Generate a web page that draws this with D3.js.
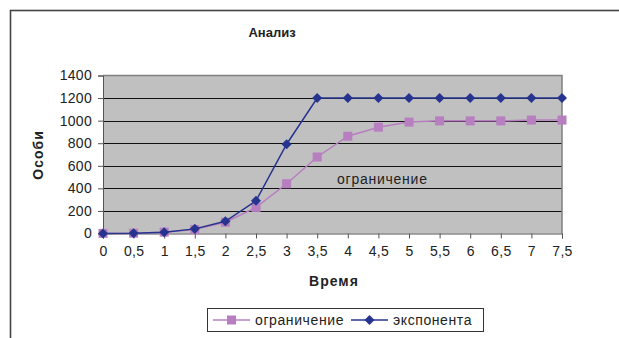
<!DOCTYPE html>
<html>
<head>
<meta charset="utf-8">
<script src="https://cdn.jsdelivr.net/npm/d3@7"></script>
<style>
  html, body { margin: 0; padding: 0; background: #fff; }
  svg { display: block; font-family: Arial, "Liberation Sans", sans-serif; }
</style>
</head>
<body>
<svg id="chart" width="619" height="338"></svg>
<script>
// Time points (x categories) and the two population series
const times = ["0", "0,5", "1", "1,5", "2", "2,5", "3", "3,5", "4", "4,5", "5", "5,5", "6", "6,5", "7", "7,5"];
const limited = [1, 3, 12, 35, 100, 231, 441, 678, 862, 942, 987, 998, 998, 998, 1005, 1005];
const exponent = [0, 2, 12, 41, 108, 290, 791, 1200, 1200, 1200, 1200, 1200, 1200, 1200, 1200, 1200];
const yTicks = [0, 200, 400, 600, 800, 1000, 1200, 1400];

const limitedName = "ограничение";
const exponentName = "экспонента";
const chartTitle = "Анализ";
const xTitle = "Время";
const yTitle = "Особи";

const colLimited = "#b77ec0";
const colExp = "#27348f";
const textCol = "#222";
const font = "Arial, 'Liberation Sans', sans-serif";

const svg = d3.select("#chart");

// Outer chart frame
svg.append("rect")
  .attr("x", 10.5).attr("y", 10.5)
  .attr("width", 640).attr("height", 360)
  .attr("fill", "none").attr("stroke", "#444").attr("stroke-width", 1.6);

const plot = { left: 103, right: 562, top: 75.5, bottom: 233.5 };

const x = d3.scalePoint().domain(times).range([plot.left, plot.right]);
const y = d3.scaleLinear().domain([0, 1400]).range([plot.bottom, plot.top]);

// Plot area background
svg.append("rect")
  .attr("x", plot.left).attr("y", plot.top)
  .attr("width", plot.right - plot.left).attr("height", plot.bottom - plot.top)
  .attr("fill", "#c0c0c0");

// Horizontal gridlines
svg.append("g").selectAll("line")
  .data(yTicks.filter(v => v > 0 && v < 1400))
  .join("line")
  .attr("x1", plot.left).attr("x2", plot.right)
  .attr("y1", d => Math.round(y(d)) + 0.5).attr("y2", d => Math.round(y(d)) + 0.5)
  .attr("stroke", "#111").attr("stroke-width", 1);

// Plot border (top and right)
svg.append("path")
  .attr("d", `M${plot.left},${plot.top}H${plot.right}V${plot.bottom}`)
  .attr("fill", "none").attr("stroke", "#808080").attr("stroke-width", 1.5);

// Y axis
const yAxis = svg.append("g")
  .attr("transform", `translate(${plot.left},0)`)
  .call(d3.axisLeft(y).tickValues(yTicks).tickSize(5).tickPadding(6).tickFormat(d3.format("d")));
yAxis.select(".domain").attr("stroke", "#555");
yAxis.selectAll(".tick line").attr("stroke", "#555");
yAxis.selectAll("text").attr("font-size", 14).attr("fill", textCol).attr("font-family", font)
  .attr("letter-spacing", 0.3);

// X axis
const xAxis = svg.append("g")
  .attr("transform", `translate(0,${plot.bottom})`)
  .call(d3.axisBottom(x).tickSize(5).tickPadding(8));
xAxis.select(".domain").attr("stroke", "#555");
xAxis.selectAll(".tick line").attr("stroke", "#555");
xAxis.selectAll("text").attr("font-size", 14).attr("fill", textCol).attr("font-family", font)
  .attr("letter-spacing", 0.3);

// Series lines
const line = d3.line().x((d, i) => x(times[i])).y(d => y(d));

svg.append("path").datum(limited)
  .attr("d", line).attr("fill", "none")
  .attr("stroke", colLimited).attr("stroke-width", 1.5);

svg.append("g").selectAll("rect")
  .data(limited).join("rect")
  .attr("x", (d, i) => x(times[i]) - 4.5).attr("y", d => y(d) - 4.5)
  .attr("width", 9).attr("height", 9)
  .attr("fill", colLimited);

svg.append("path").datum(exponent)
  .attr("d", line).attr("fill", "none")
  .attr("stroke", colExp).attr("stroke-width", 1.5);

const diamond = d3.symbol().type(d3.symbolDiamond2).size(64);
svg.append("g").selectAll("path")
  .data(exponent).join("path")
  .attr("transform", (d, i) => `translate(${x(times[i])},${y(d)})`)
  .attr("d", diamond)
  .attr("fill", colExp);

// In-plot label
svg.append("text")
  .attr("x", 337).attr("y", 184)
  .attr("font-size", 14).attr("letter-spacing", 0.75).attr("fill", textCol)
  .text(limitedName);

// Titles
svg.append("text")
  .attr("x", 272).attr("y", 37)
  .attr("text-anchor", "middle").attr("font-size", 13).attr("font-weight", "bold").attr("fill", textCol)
  .text(chartTitle);

svg.append("text")
  .attr("x", 334).attr("y", 286)
  .attr("text-anchor", "middle").attr("font-size", 14).attr("letter-spacing", 1).attr("font-weight", "bold").attr("fill", textCol)
  .text(xTitle);

svg.append("text")
  .attr("transform", "translate(43,155) rotate(-90)")
  .attr("text-anchor", "middle").attr("font-size", 14).attr("letter-spacing", 1).attr("font-weight", "bold").attr("fill", textCol)
  .text(yTitle);

// Legend
const legend = svg.append("g");
legend.append("rect")
  .attr("x", 207.5).attr("y", 308.5).attr("width", 276).attr("height", 23)
  .attr("fill", "#fff").attr("stroke", "#333").attr("stroke-width", 1);

const items = [
  { name: limitedName, color: colLimited, x0: 213, marker: "square" },
  { name: exponentName, color: colExp, x0: 351, marker: "diamond" }
];
items.forEach(it => {
  const cy = 320;
  legend.append("line")
    .attr("x1", it.x0).attr("x2", it.x0 + 37).attr("y1", cy).attr("y2", cy)
    .attr("stroke", it.color).attr("stroke-width", 1.5);
  if (it.marker === "square") {
    legend.append("rect")
      .attr("x", it.x0 + 18.5 - 4.5).attr("y", cy - 4.5).attr("width", 9).attr("height", 9)
      .attr("fill", it.color);
  } else {
    legend.append("path")
      .attr("transform", `translate(${it.x0 + 18.5},${cy})`)
      .attr("d", diamond).attr("fill", it.color);
  }
  legend.append("text")
    .attr("x", it.x0 + 42).attr("y", cy + 5)
    .attr("font-size", 14).attr("letter-spacing", 0.6).attr("fill", textCol)
    .text(it.name);
});
</script>
</body>
</html>
